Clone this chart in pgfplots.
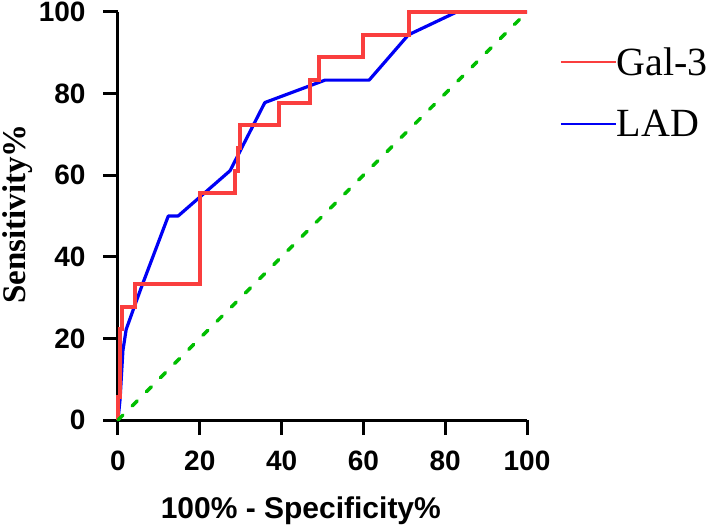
\documentclass[border=0pt]{standalone}
\usepackage{pgfplots}
\pgfplotsset{compat=1.18}
\usepackage{fontspec}
\setmainfont{Liberation Serif}
\setsansfont{Liberation Sans}
\definecolor{rocred}{RGB}{250,62,62}
\definecolor{rocblue}{RGB}{0,0,245}
\definecolor{rocgreen}{RGB}{0,190,0}
\begin{document}
\begin{tikzpicture}
\begin{axis}[
  at={(0,0)}, anchor=south west,
  scale only axis, width=409pt, height=408pt,
  xmin=0, xmax=100, ymin=0, ymax=100,
  enlargelimits=false, clip=false,
  axis lines=left,
  axis line style={-, line width=3pt, black},
  xtick={0,20,...,100}, ytick={0,20,...,100},
  tick align=outside, major tick length=15pt,
  tick style={line width=3pt, black},
  /pgf/number format/assume math mode=true,
  ticklabel style={font=\fontsize{28}{28}\selectfont\sffamily\bfseries},
  xticklabel style={yshift=-12pt},
  yticklabel style={xshift=-14pt},
  xlabel={100\% - Specificity\%},
  ylabel={Sensitivity\%},
  xlabel style={font=\fontsize{30}{30}\selectfont\sffamily\bfseries, at={(axis description cs:0.447,0)}, anchor=base, yshift=-98pt},
  ylabel style={font=\fontsize{33}{33}\selectfont\rmfamily\bfseries, at={(axis description cs:-0.2250,0.505)}, anchor=base},
  legend style={at={(axis description cs:1.073,0.918)}, anchor=north west, draw=none, fill=none,
    font=\fontsize{40}{40}\selectfont\rmfamily, row sep=33pt,
    nodes={inner sep=0pt}, column sep=0pt},
  legend cell align=left,
  legend image code/.code={\draw[line width=1.8pt] (0pt,0pt) -- (55pt,0pt);},
]
\addplot[rocblue, line width=3.2pt, line join=round, forget plot] coordinates {
(0,0) (0.5,5) (1.2,17) (2,22.2) (4,27.8) (6,33.3) (12.3,50) (14.7,50) (27.4,61.1) (35.9,77.8) (50.6,83.3) (61.4,83.3) (71,94.4) (82.8,100) (100,100)};
\addplot[rocred, line width=4pt] coordinates {
(0,0) (0,5.6) (0.6,5.6) (0.6,22.2) (1.1,22.2) (1.1,27.8) (4.2,27.8) (4.2,33.3) (20,33.3) (20,55.6) (28.6,55.6) (28.6,61.1) (29.4,61.1) (29.4,66.7) (29.8,66.7) (29.8,72.2) (39.4,72.2) (39.4,77.8) (46.9,77.8) (46.9,83.3) (49.2,83.3) (49.2,88.9) (59.8,88.9) (59.8,94.4) (71.2,94.4) (71.2,100) (100,100)};
\addlegendentry{Gal-3}
\addlegendimage{rocblue}
\addlegendentry{LAD}
\addplot[rocgreen, line width=3.5pt, line cap=round, dash pattern=on 7pt off 13pt, forget plot] coordinates {(0,0) (100,100)};
\end{axis}
\pgfresetboundingbox
\path[use as bounding box] (-118pt,-110pt) rectangle (590pt,420pt);
\end{tikzpicture}
\end{document}
